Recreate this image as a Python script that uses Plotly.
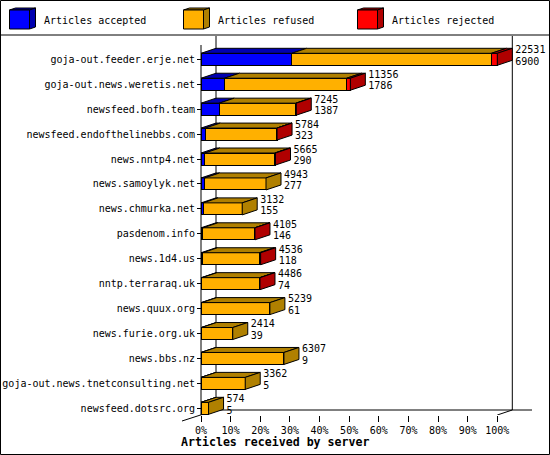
import plotly.graph_objects as go

# --- data ------------------------------------------------------------------
servers = [
    "goja-out.feeder.erje.net",
    "goja-out.news.weretis.net",
    "newsfeed.bofh.team",
    "newsfeed.endofthelinebbs.com",
    "news.nntp4.net",
    "news.samoylyk.net",
    "news.chmurka.net",
    "pasdenom.info",
    "news.1d4.us",
    "nntp.terraraq.uk",
    "news.quux.org",
    "news.furie.org.uk",
    "news.bbs.nz",
    "goja-out.news.tnetconsulting.net",
    "newsfeed.dotsrc.org",
]
received = [22531, 11356, 7245, 5784, 5665, 4943, 3132, 4105, 4536, 4486, 5239, 2414, 6307, 3362, 574]
accepted = [6900, 1786, 1387, 323, 290, 277, 155, 146, 118, 74, 61, 39, 9, 5, 5]
rejected = [450, 280, 25, 15, 60, 0, 0, 10, 100, 20, 0, 0, 0, 0, 0]
refused = [15181, 9290, 5833, 5446, 5315, 4666, 2977, 3949, 4318, 4392, 5178, 2375, 6298, 3357, 569]
x_ticks = [0, 10, 20, 30, 40, 50, 60, 70, 80, 90, 100]

# --- look -------------------------------------------------------------------
BLUE, BLUE_D = "#0000ff", "#0000b0"
ORANGE, ORANGE_D = "#ffb000", "#b08000"
RED, RED_D = "#ff0000", "#b00000"
FONT = "DejaVu Sans Mono"

W, H = 550, 455
PLOT_L, PLOT_R, PLOT_T, PLOT_B = 178, 532, 36, 415
PX_X0, PX_PER_PCT = 201.0, 2.963     # pixel of 0 %, pixels per percent
PX_Y0, PX_PER_ROW = 59.3, 24.93      # pixel of first row, pixels per row
DX = 15 / PX_PER_PCT                 # 3d depth, in data units
DY = 5 / PX_PER_ROW
BAR_H = 12 / PX_PER_ROW


def xd(px):
    return (px - PX_X0) / PX_PER_PCT


def yd(py):
    return (py - PX_Y0) / PX_PER_ROW


def xp(px):
    return (px - PLOT_L) / (PLOT_R - PLOT_L)


def yp(py):
    return (PLOT_B - py) / (PLOT_B - PLOT_T)


def paper_path(pts):
    return "M " + " L ".join(f"{xp(a)},{yp(b)}" for a, b in pts) + " Z"


scale = 100.0 / max(received)
rows = list(range(len(servers)))
segments = [(accepted, BLUE, BLUE_D), (refused, ORANGE, ORANGE_D), (rejected, RED, RED_D)]

fig = go.Figure()

# front faces
for vals, col, _ in segments:
    fig.add_trace(go.Bar(
        y=rows, x=[v * scale for v in vals], orientation="h", width=BAR_H,
        marker=dict(color=col, line=dict(color="black", width=1)),
        showlegend=False, hoverinfo="skip",
    ))

# top faces and end faces
tops = {c: ([], []) for _, _, c in segments}
sides = {c: ([], []) for _, _, c in segments}
for i in rows:
    yt, yb = i - BAR_H / 2, i + BAR_H / 2
    x0 = 0.0
    last = None
    for vals, _, dark in segments:
        x1 = x0 + vals[i] * scale
        if vals[i] > 0:
            tx, ty = tops[dark]
            tx += [x0, x1, x1 + DX, x0 + DX, x0, None]
            ty += [yt, yt, yt - DY, yt - DY, yt, None]
            last = dark
        x0 = x1
    sx, sy = sides[last]
    sx += [x0, x0 + DX, x0 + DX, x0, x0, None]
    sy += [yt, yt - DY, yb - DY, yb, yt, None]

for store in (tops, sides):
    for dark, (px_, py_) in store.items():
        if px_:
            fig.add_trace(go.Scatter(
                x=px_, y=py_, mode="lines", fill="toself", fillcolor=dark,
                line=dict(color="black", width=1), showlegend=False, hoverinfo="skip",
            ))

# value labels
ends = [r * scale + DX + 3 / PX_PER_PCT for r in received]
fig.add_trace(go.Scatter(
    x=ends, y=[i - 0.35 for i in rows], mode="text", text=[str(v) for v in received],
    textposition="middle right", textfont=dict(family=FONT, size=10, color="black"),
    cliponaxis=False, showlegend=False, hoverinfo="skip",
))
fig.add_trace(go.Scatter(
    x=ends, y=[i + 0.11 for i in rows], mode="text", text=[str(v) for v in accepted],
    textposition="middle right", textfont=dict(family=FONT, size=10, color="black"),
    cliponaxis=False, showlegend=False, hoverinfo="skip",
))

# frame: back wall, floor, front edge
line = dict(color="black", width=1)
floor_back = yd(410)
shapes = [
    dict(type="line", xref="x", yref="y", x0=DX, x1=xd(PLOT_R), y0=floor_back, y1=floor_back,
         line=line, layer="below"),
    dict(type="line", xref="x", yref="y", x0=DX, x1=DX, y0=yd(PLOT_T), y1=floor_back,
         line=line, layer="below"),
    dict(type="line", xref="x", yref="y", x0=100 + DX, x1=100 + DX, y0=yd(PLOT_T), y1=floor_back,
         line=line, layer="below"),
    dict(type="line", xref="x", yref="y", x0=100, x1=100 + DX, y0=yd(PLOT_B), y1=floor_back,
         line=line, layer="below"),
    dict(type="line", xref="x", yref="y", x0=0, x1=0, y0=yd(45), y1=yd(PLOT_B), line=line),
    dict(type="line", xref="paper", yref="paper", x0=xp(182), x1=xp(216), y0=yp(421), y1=yp(410),
         line=line, layer="below"),
    # outer border and legend separator
    dict(type="rect", xref="paper", yref="paper", x0=xp(0.5), x1=xp(W - 0.5),
         y0=yp(0.5), y1=yp(H - 0.5), line=line),
    dict(type="line", xref="paper", yref="paper", x0=xp(0), x1=xp(W), y0=yp(35), y1=yp(35),
         line=line),
]

annotations = []
legend_items = [("Articles accepted", BLUE, BLUE_D, 9.5),
                ("Articles refused", ORANGE, ORANGE_D, 183.5),
                ("Articles rejected", RED, RED_D, 357.5)]
for label, col, dark, lx in legend_items:
    fx0, fx1, fy0, fy1 = lx, lx + 20, 10, 29
    shapes.append(dict(type="path", xref="paper", yref="paper",
                       path=paper_path([(fx0, fy0), (fx0 + 6, fy0 - 2), (fx1 + 6, fy0 - 2), (fx1, fy0)]),
                       fillcolor=dark, line=line))
    shapes.append(dict(type="path", xref="paper", yref="paper",
                       path=paper_path([(fx1, fy0), (fx1 + 6, fy0 - 2), (fx1 + 6, fy1 - 2), (fx1, fy1)]),
                       fillcolor=dark, line=line))
    shapes.append(dict(type="path", xref="paper", yref="paper",
                       path=paper_path([(fx0, fy0), (fx1, fy0), (fx1, fy1), (fx0, fy1)]),
                       fillcolor=col, line=line))
    annotations.append(dict(xref="paper", yref="paper", x=xp(lx + 32.5), y=yp(20),
                            xanchor="left", yanchor="middle", showarrow=False, text=label,
                            font=dict(family=FONT, size=10, color="black")))

annotations.append(dict(xref="paper", yref="paper", x=xp(179), y=yp(442),
                        xanchor="left", yanchor="middle", showarrow=False,
                        text="<b>Articles received by server</b>",
                        font=dict(family=FONT, size=11.6, color="black")))

fig.update_layout(
    width=W, height=H,
    margin=dict(l=PLOT_L, r=W - PLOT_R, t=PLOT_T, b=H - PLOT_B, pad=0, autoexpand=False),
    barmode="stack",
    plot_bgcolor="white", paper_bgcolor="white",
    font=dict(family=FONT, size=10, color="black"),
    shapes=shapes, annotations=annotations,
    xaxis=dict(range=[xd(PLOT_L), xd(PLOT_R)], tickvals=x_ticks,
               ticktext=[f"{t}%" for t in x_ticks], ticks="outside", ticklen=6,
               tickcolor="black", showgrid=False, zeroline=False, showline=False,
               automargin=False,
               tickfont=dict(family=FONT, size=10, color="black"), fixedrange=True),
    yaxis=dict(range=[yd(PLOT_B), yd(PLOT_T)], tickvals=rows, ticktext=servers,
               anchor="free", position=xp(PX_X0), ticks="outside", ticklen=4,
               tickcolor="black", showgrid=False, zeroline=False, showline=False,
               automargin=False,
               tickfont=dict(family=FONT, size=10, color="black"), fixedrange=True),
)

# the page's default body margin would push the chart 8px off the window
fig.write_html("out.html", config={"displayModeBar": False},
               post_script="document.body.style.margin = '0';")
